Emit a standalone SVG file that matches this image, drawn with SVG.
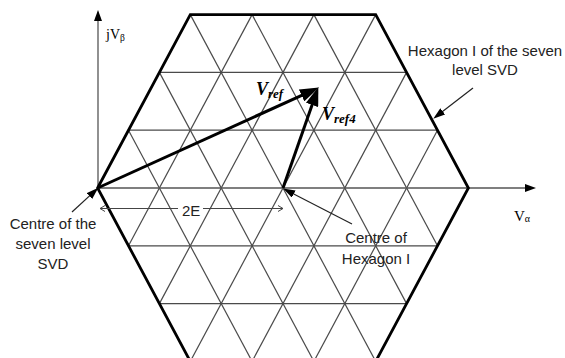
<svg xmlns="http://www.w3.org/2000/svg" width="565" height="358" viewBox="0 0 565 358">
<style>
.grid{stroke:#4a4a4a;stroke-width:1.2;fill:none}
.axis{stroke:#555;stroke-width:1.3;fill:none}
.hex{stroke:#000;stroke-width:2.8;fill:none;stroke-linejoin:miter}
.vec{stroke:#000;stroke-width:3;fill:none}
.ptr{stroke:#222;stroke-width:1.2;fill:none}
.dim{stroke:#444;stroke-width:1.2;fill:none}
.lbl{font-family:"Liberation Sans",Arial,sans-serif;font-size:15px;fill:#222}
.sym{font-family:"Liberation Serif","Times New Roman",serif;fill:#000}
.vlab{font-family:"Liberation Serif","Times New Roman",serif;font-weight:bold;font-style:italic;fill:#000}
</style>
<defs>
<marker id="bigHead" markerUnits="userSpaceOnUse" markerWidth="19" markerHeight="13" refX="8" refY="6.5" orient="auto"><path d="M0,0 L19,6.5 L0,13 z" fill="#000"/></marker>
<marker id="axHead" markerUnits="userSpaceOnUse" markerWidth="11" markerHeight="8" refX="4" refY="4" orient="auto"><path d="M0,0 L11,4 L0,8 z" fill="#000"/></marker>
<marker id="ptrHead" markerUnits="userSpaceOnUse" markerWidth="12" markerHeight="8" refX="6" refY="4" orient="auto"><path d="M0,0 L12,4 L0,8 z" fill="#000"/></marker>
<marker id="chev" markerUnits="userSpaceOnUse" markerWidth="7" markerHeight="8" refX="6" refY="4" orient="auto-start-reverse"><path d="M1,1 L6,4 L1,7" fill="none" stroke="#444" stroke-width="1"/></marker>
</defs>

<g id="grid">
<line class="grid" x1="159.4" y1="72.4" x2="406.6" y2="72.4"/>
<line class="grid" x1="128.5" y1="130.2" x2="437.5" y2="130.2"/>
<line class="grid" x1="128.5" y1="245.8" x2="437.5" y2="245.8"/>
<line class="grid" x1="159.4" y1="303.6" x2="406.6" y2="303.6"/>
<line class="grid" x1="128.5" y1="245.8" x2="252.1" y2="14.6"/>
<line class="grid" x1="159.4" y1="303.6" x2="313.9" y2="14.6"/>
<line class="grid" x1="190.3" y1="361.4" x2="375.7" y2="14.6"/>
<line class="grid" x1="252.1" y1="361.4" x2="406.6" y2="72.4"/>
<line class="grid" x1="313.9" y1="361.4" x2="437.5" y2="130.2"/>
<line class="grid" x1="252.1" y1="361.4" x2="128.5" y2="130.2"/>
<line class="grid" x1="313.9" y1="361.4" x2="159.4" y2="72.4"/>
<line class="grid" x1="375.7" y1="361.4" x2="190.3" y2="14.6"/>
<line class="grid" x1="406.6" y1="303.6" x2="252.1" y2="14.6"/>
<line class="grid" x1="437.5" y1="245.8" x2="313.9" y2="14.6"/>
</g>

<g id="axes">
<line class="axis" x1="98" y1="188" x2="98" y2="17" marker-end="url(#axHead)"/>
<line class="axis" x1="98" y1="188" x2="529" y2="188" marker-end="url(#axHead)"/>
<text class="sym" x="106" y="39" font-size="14">jV<tspan font-size="9.5" dy="2">β</tspan></text>
<text class="sym" x="514" y="221" font-size="15">V<tspan font-size="10" dy="1">α</tspan></text>
</g>

<g id="hexagon">
<polygon class="hex" points="97.6,188 190.3,14.6 375.7,14.6 468.4,188 375.7,361.4 190.3,361.4"/>
</g>

<g id="connectors">
<line class="vec" x1="97.6" y1="188" x2="308.9" y2="92.1" marker-end="url(#bigHead)"/>
<line class="vec" x1="283" y1="188" x2="314.7" y2="97.4" marker-end="url(#bigHead)"/>
<line class="ptr" x1="72" y1="212" x2="93.9" y2="191.9" marker-end="url(#ptrHead)"/>
<line class="ptr" x1="352" y1="224" x2="288.4" y2="191.3" marker-end="url(#ptrHead)"/>
<line class="ptr" x1="473" y1="88" x2="438" y2="115" marker-end="url(#ptrHead)"/>
<line class="dim" x1="100" y1="208.5" x2="178" y2="208.5" marker-start="url(#chev)"/>
<line class="dim" x1="203" y1="208.5" x2="283" y2="208.5" marker-end="url(#chev)"/>
</g>

<g id="vref">
<text class="vlab" x="256" y="95" font-size="18">V<tspan font-size="13" dy="3">ref</tspan></text>
</g>
<g id="vref4">
<text class="vlab" x="322" y="120" font-size="18">V<tspan font-size="13" dy="3">ref4</tspan></text>
</g>
<g id="label-2E">
<text class="lbl" x="182" y="216">2E</text>
</g>
<g id="label-hexI">
<text class="lbl" x="485" y="56" text-anchor="middle">Hexagon I of the seven</text>
<text class="lbl" x="485" y="75" text-anchor="middle">level SVD</text>
</g>
<g id="label-centre7">
<text class="lbl" x="53" y="229" text-anchor="middle">Centre of the</text>
<text class="lbl" x="53" y="249" text-anchor="middle">seven level</text>
<text class="lbl" x="53" y="269" text-anchor="middle">SVD</text>
</g>
<g id="label-centreI">
<text class="lbl" x="376" y="243" text-anchor="middle">Centre of</text>
<text class="lbl" x="376" y="264" text-anchor="middle">Hexagon I</text>
</g>
</svg>
